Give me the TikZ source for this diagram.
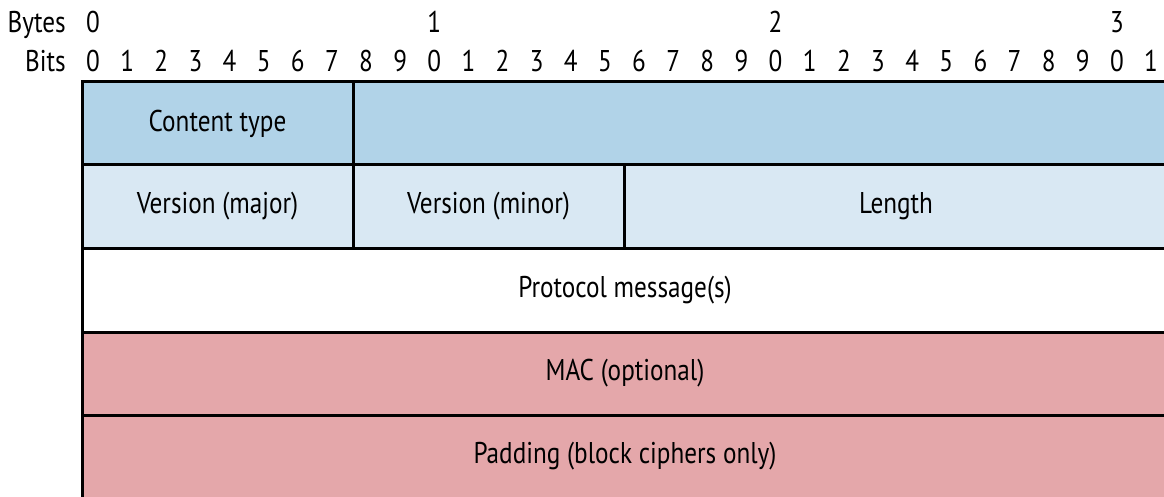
\documentclass[tikz,border=0pt]{standalone}
\usepackage{fontspec}
\setmainfont[FakeStretch=0.84]{PT Sans}
\definecolor{blueA}{HTML}{B1D3E8}
\definecolor{blueB}{HTML}{D9E8F3}
\definecolor{redA}{HTML}{E4A7AA}
\begin{document}
\begin{tikzpicture}[x=1pt,y=-1pt,
  txt/.style={font=\fontsize{30}{34}\selectfont},
  cell/.style={txt, draw=black, line width=3pt, inner sep=0pt, anchor=center},
  lbl/.style={txt, inner sep=0pt}]
\useasboundingbox (0,0) rectangle (1164,497);
% header
\node[lbl, anchor=base east] (bytes) at (66,33) {Bytes};
\node[lbl, anchor=base east] (bits) at (66,72) {Bits};
\foreach \k in {0,1,2,3} {
  \node[lbl, anchor=base] (B\k) at ({93+341.3*\k},33) {\k};
}
\foreach \i in {0,...,31} {
  \pgfmathtruncatemacro\d{mod(\i,10)}
  \node[lbl, anchor=base] (b\i) at ({93+34.13*\i},72) {\d};
}
% rows
\node[cell, fill=blueA, minimum width=271pt, minimum height=83pt] (ct) at (217.5,123.5) {Content type};
\node[cell, fill=blueA, minimum width=815pt, minimum height=83pt] (ctr) at (760.5,123.5) {};
\node[cell, fill=blueB, minimum width=271pt, minimum height=83pt] (vmaj) at (217.5,206.5) {Version (major)};
\node[cell, fill=blueB, minimum width=271pt, minimum height=83pt] (vmin) at (488.5,206.5) {Version (minor)};
\node[cell, fill=blueB, minimum width=544pt, minimum height=83pt] (len) at (896,206.5) {Length};
\node[cell, fill=white, minimum width=1086pt, minimum height=84pt] (proto) at (625,290) {Protocol message(s)};
\node[cell, fill=redA, minimum width=1086pt, minimum height=83pt] (mac) at (625,373.5) {MAC (optional)};
\node[cell, fill=redA, minimum width=1086pt, minimum height=83pt] (pad) at (625,456.5) {Padding (block ciphers only)};
\end{tikzpicture}
\end{document}
